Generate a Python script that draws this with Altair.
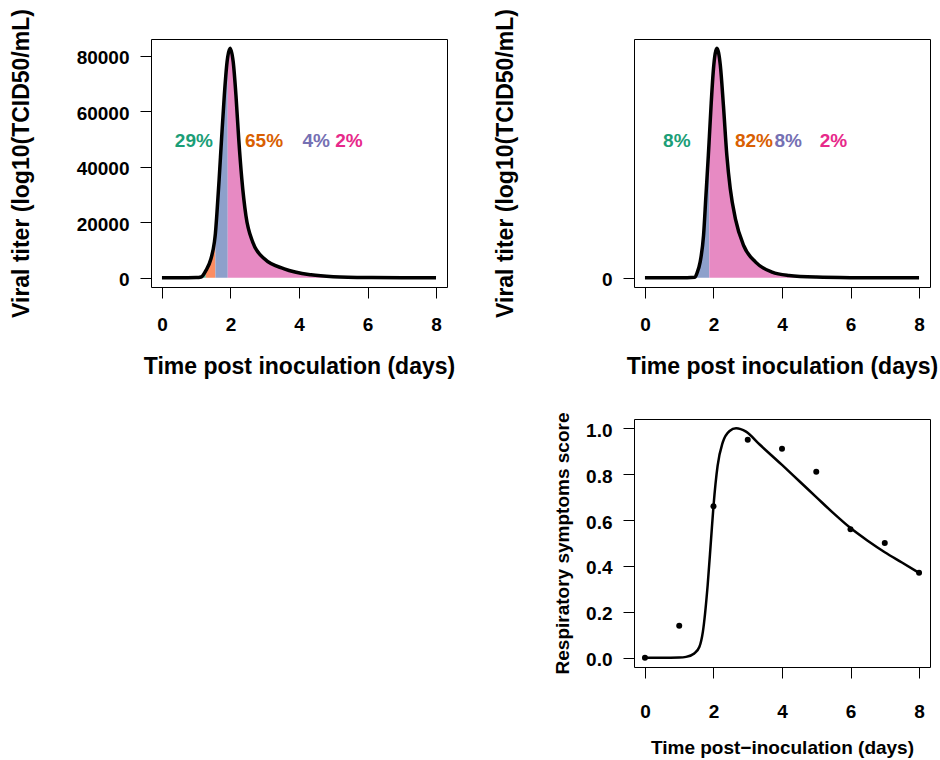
import altair as alt
import pandas as pd

FONT = "Liberation Sans"

# ---------------- data ----------------
# top-left viral titer curve
tl_day = [0, 0.5, 1.0, 1.14, 1.28, 1.43, 1.53, 1.56, 1.6, 1.67, 1.74, 1.82, 1.9, 1.92,
          1.99, 2.08, 2.16, 2.24, 2.33, 2.45, 2.65, 2.99, 3.57, 4.35, 5.0, 6.0, 7.0, 8.0]
tl_val = [0, 0, 80, 300, 2600, 6850, 12860, 16000, 22450, 35680, 50090, 65700, 77700, 79600,
          82700, 77700, 65700, 50090, 35680, 22450, 12860, 6850, 3240, 1080, 400, 100, 30, 0]
tl_seg_names = ["g", "o", "b", "p"]
tl_seg_start = [0, 1.28, 1.56, 1.92]
tl_seg_end = [1.28, 1.56, 1.92, 8.0]
tl_lab_day = [0.93, 2.98, 4.5, 5.46]
tl_lab_val = [49300, 49300, 49300, 49300]
tl_lab_txt = ["29%", "65%", "4%", "2%"]

# top-right viral titer curve
tr_day = [0, 1.0, 1.46, 1.51, 1.61, 1.71, 1.78, 1.85, 1.88, 1.93, 2.0, 2.1, 2.2, 2.29,
          2.39, 2.49, 2.64, 2.88, 3.23, 3.71, 4.2, 5.0, 6.0, 7.0, 8.0]
tr_val = [0, 0, 200, 1440, 5650, 15260, 29660, 44070, 50800, 62090, 75300, 82700, 76500,
          62090, 44070, 32070, 21260, 11640, 5650, 2040, 840, 250, 60, 15, 0]
tr_seg_names = ["b", "p"]
tr_seg_start = [1.51, 1.88]
tr_seg_end = [1.88, 8.0]
tr_lab_day = [0.93, 3.18, 4.18, 5.5]
tr_lab_val = [49300, 49300, 49300, 49300]
tr_lab_txt = ["8%", "82%", "8%", "2%"]

# label colours (Dark2) and fill colours (Set2)
lab_colors = ["#1B9E77", "#D95F02", "#7570B3", "#E7298A"]
fill_domain = ["g", "o", "b", "p"]
fill_range = ["#66C2A5", "#FC8D62", "#8DA0CB", "#E78AC3"]

# bottom-right symptoms
sym_day = [0, 1, 2, 3, 4, 5, 6, 7, 8]
sym_val = [0.0, 0.14, 0.66, 0.95, 0.91, 0.81, 0.56, 0.50, 0.37]
fit_day = [0, 0.5, 1.0, 1.2, 1.44, 1.59, 1.69, 1.83, 1.93, 2.0, 2.12, 2.27, 2.47, 2.66,
           2.95, 3.34, 4.0, 4.5, 5.0, 5.5, 6.0, 6.5, 7.0, 7.5, 8.0]
fit_val = [0, 0, 0.001, 0.004, 0.019, 0.048, 0.113, 0.316, 0.518, 0.66, 0.836, 0.938,
           0.988, 1.0, 0.985, 0.93, 0.84, 0.77, 0.70, 0.63, 0.565, 0.51, 0.46, 0.415, 0.37]

XTICKS = [0, 2, 4, 6, 8]
YTICKS_TL = [0, 20000, 40000, 60000, 80000]
YTICKS_TR = [0]
YTICKS_BR = [0.0, 0.2, 0.4, 0.6, 0.8, 1.0]

W, H = 296, 248
XDOM = [-0.32, 8.32]
YMAX = 82700
YDOM = [-0.04 * YMAX, 1.04 * YMAX]


def segments(days, vals, names, starts, ends):
    rows = []
    for n, s, e in zip(names, starts, ends):
        for d, v in zip(days, vals):
            if s <= d <= e:
                rows.append({"day": d, "val": v, "seg": n})
    return pd.DataFrame(rows)


def titer_panel(days, vals, names, starts, ends, ldays, lvals, ltxt, yticks, ytitle_pad):
    curve = pd.DataFrame({"day": days, "val": vals})
    seg = segments(days, vals, names, starts, ends)
    labs = pd.DataFrame({"day": ldays, "val": lvals, "txt": ltxt, "col": lab_colors})

    xenc = alt.X("day:Q", scale=alt.Scale(domain=XDOM, nice=False, zero=False),
                 axis=alt.Axis(values=XTICKS, title="Time post inoculation (days)",
                               titleFontSize=23, labelPadding=17.5, titlePadding=21))
    yenc = alt.Y("val:Q", stack=None, scale=alt.Scale(domain=YDOM, nice=False, zero=False),
                 axis=alt.Axis(values=yticks, format="d", title="Viral titer (log10(TCID50/mL)",
                               titleFontSize=23, labelPadding=11, labelOffset=2,
                               titlePadding=ytitle_pad))

    area = alt.Chart(seg).mark_area(interpolate="monotone", opacity=1).encode(
        x=xenc, y=yenc,
        color=alt.Color("seg:N", scale=alt.Scale(domain=fill_domain, range=fill_range), legend=None),
        detail="seg:N",
    )
    line = alt.Chart(curve).mark_line(interpolate="monotone", color="black", strokeWidth=3.5).encode(
        x="day:Q", y="val:Q")
    text = alt.Chart(labs).mark_text(font=FONT, fontWeight="bold", fontSize=19, baseline="middle",
                                     align="center").encode(
        x="day:Q", y="val:Q", text="txt:N", color=alt.Color("col:N", scale=None))
    return alt.layer(area, line, text).properties(width=W, height=H)


tl = titer_panel(tl_day, tl_val, tl_seg_names, tl_seg_start, tl_seg_end,
                 tl_lab_day, tl_lab_val, tl_lab_txt, YTICKS_TL, 43)
tr = titer_panel(tr_day, tr_val, tr_seg_names, tr_seg_start, tr_seg_end,
                 tr_lab_day, tr_lab_val, tr_lab_txt, YTICKS_TR, 84)

# bottom-right
pts = pd.DataFrame({"day": sym_day, "val": sym_val})
fit = pd.DataFrame({"day": fit_day, "val": fit_val})
bx = alt.X("day:Q", scale=alt.Scale(domain=XDOM, nice=False, zero=False),
           axis=alt.Axis(values=XTICKS, title="Time post\u2212inoculation (days)",
                         titleFontSize=19, labelPadding=24.5, titlePadding=17))
by = alt.Y("val:Q", scale=alt.Scale(domain=[-0.04, 1.04], nice=False, zero=False),
           axis=alt.Axis(values=YTICKS_BR, format=".1f", title="Respiratory symptoms score",
                         titleFontSize=19, labelPadding=11, labelOffset=2, titlePadding=13))
br_line = alt.Chart(fit).mark_line(interpolate="monotone", color="black", strokeWidth=2.5).encode(x=bx, y=by)
br_pts = alt.Chart(pts).mark_circle(color="black", size=36, opacity=1).encode(x="day:Q", y="val:Q")
br = alt.layer(br_line, br_pts).properties(width=W, height=H)

# empty placeholder for the bottom-left cell
ph = alt.Chart(pd.DataFrame({"day": [0]})).mark_point(opacity=0).encode(
    x=alt.X("day:Q", axis=None), y=alt.Y("day:Q", axis=None)
).properties(width=W, height=H, view=alt.ViewBackground(stroke="transparent"))

chart = alt.concat(tl, tr, ph, br, columns=2, spacing={"row": 32, "column": 37}).properties(
    padding={"left": 9, "top": 8, "right": 0, "bottom": 0},
    background="white",
).configure(font=FONT).configure_view(stroke="black", strokeWidth=1).configure_axis(
    domain=False, grid=False, tickSize=11, tickColor="black", tickWidth=1,
    labelFont=FONT, labelFontSize=19, labelFontWeight="bold", labelColor="black",
    titleFont=FONT, titleFontWeight="bold", titleColor="black",
)

chart.save("out.html", embed_options={"renderer": "svg", "actions": False})
